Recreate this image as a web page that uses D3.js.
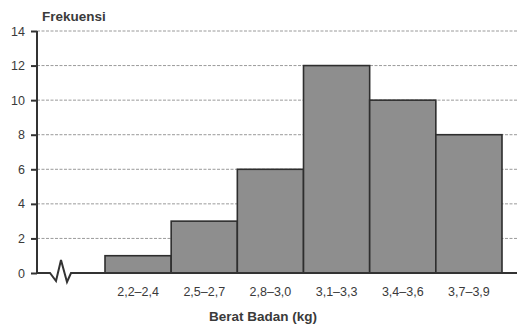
<!DOCTYPE html>
<html lang="id">
<head>
<meta charset="UTF-8">
<title>Berat Badan</title>
<script src="https://d3js.org/d3.v7.min.js"></script>
<style>
  body { margin: 0; background: #fff; }
  text { font-family: "Liberation Sans", Arial, sans-serif; fill: #3a3a3a; }
  .title { font-weight: bold; font-size: 13.5px; }
</style>
</head>
<body>
<svg width="528" height="331"></svg>
<script>
// Data
const categories = ["2,2–2,4", "2,5–2,7", "2,8–3,0", "3,1–3,3", "3,4–3,6", "3,7–3,9"];
const frequencies = [1, 3, 6, 12, 10, 8];
const yTicks = [0, 2, 4, 6, 8, 10, 12, 14];

const svg = d3.select("svg");

const axisX0 = 37, axisX1 = 517;
const y = d3.scaleLinear().domain([0, 14]).range([273, 31]);
const x = d3.scaleBand().domain(categories).range([105, 502]).paddingInner(0);

// grid lines
svg.append("g")
  .selectAll("line")
  .data(yTicks.filter(d => d > 0))
  .join("line")
  .attr("x1", axisX0).attr("x2", axisX1)
  .attr("y1", d => y(d)).attr("y2", d => y(d))
  .attr("stroke", "#9a9a9a")
  .attr("stroke-width", 1)
  .attr("stroke-dasharray", "3,1.5");

// bars
svg.append("g")
  .selectAll("rect")
  .data(frequencies)
  .join("rect")
  .attr("x", (d, i) => x(categories[i]))
  .attr("y", d => y(d))
  .attr("width", x.bandwidth())
  .attr("height", d => y(0) - y(d))
  .attr("fill", "#8e8e8e")
  .attr("stroke", "#2e2e2e")
  .attr("stroke-width", 1.6);

// y axis
const yAxis = svg.append("g")
  .attr("transform", `translate(${axisX0},0)`)
  .call(d3.axisLeft(y).tickValues(yTicks).tickSize(6).tickPadding(6));
yAxis.select(".domain").remove();
yAxis.selectAll(".tick line").attr("stroke", "#333").attr("stroke-width", 2);
yAxis.selectAll(".tick text").attr("font-size", 12.5).attr("fill", "#3a3a3a")
  .attr("font-family", "Liberation Sans, Arial, sans-serif");

// vertical axis line
svg.append("line")
  .attr("x1", axisX0).attr("x2", axisX0)
  .attr("y1", y(14)).attr("y2", y(0))
  .attr("stroke", "#333").attr("stroke-width", 2);

// baseline with break
const base = y(0);
svg.append("path")
  .attr("d", `M${axisX0},${base} L50,${base} L56,${base + 8} L61,${base - 13} L67,${base + 9} L71,${base} L${axisX1},${base}`)
  .attr("fill", "none")
  .attr("stroke", "#333")
  .attr("stroke-width", 2)
  .attr("stroke-linejoin", "miter");

// x labels
svg.append("g")
  .selectAll("text")
  .data(categories)
  .join("text")
  .attr("x", d => x(d) + x.bandwidth() / 2)
  .attr("y", 296)
  .attr("text-anchor", "middle")
  .attr("font-size", 12.5)
  .text(d => d);

// titles
svg.append("text").attr("class", "title").attr("x", 42).attr("y", 21).text("Frekuensi");
svg.append("text").attr("class", "title").attr("x", 263).attr("y", 321)
  .attr("text-anchor", "middle").text("Berat Badan (kg)");
</script>
</body>
</html>
